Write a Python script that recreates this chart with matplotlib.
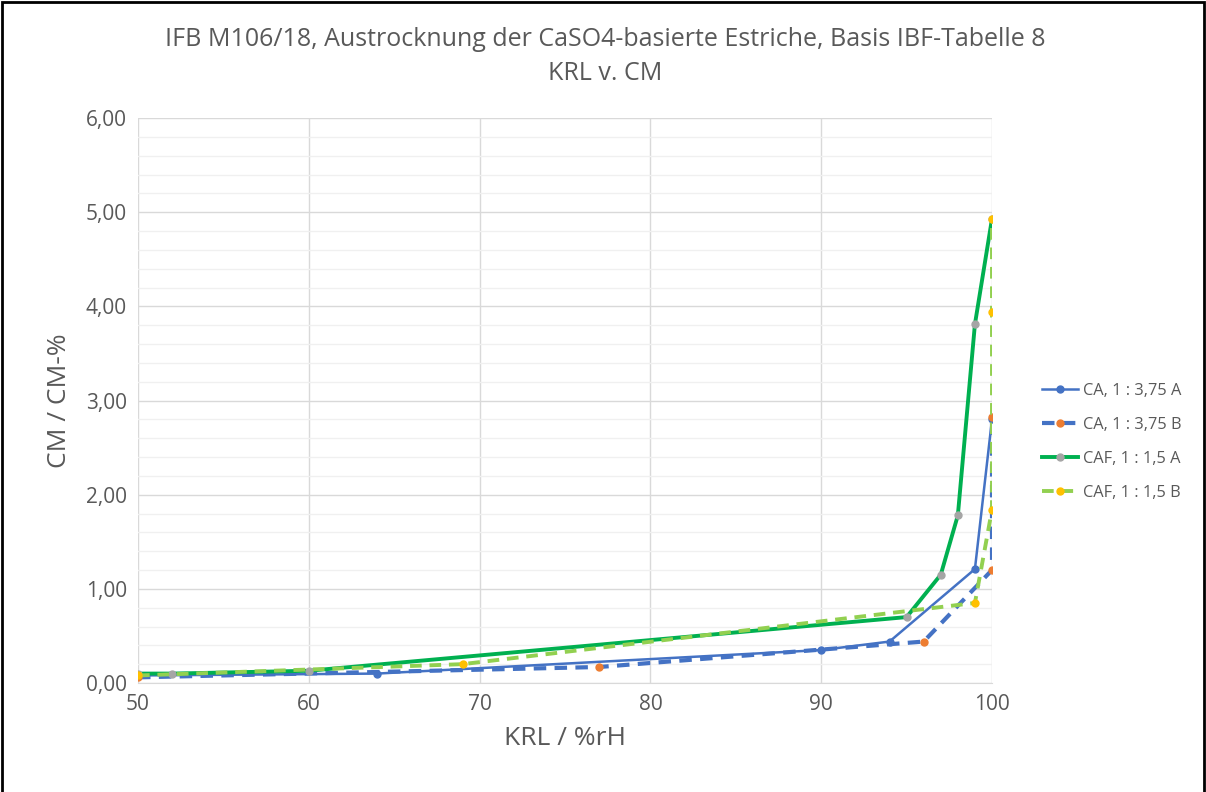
import matplotlib.pyplot as plt
from matplotlib.patches import Rectangle
from matplotlib.ticker import MultipleLocator

plt.rcParams['font.family'] = ['Open Sans', 'DejaVu Sans']

# data
x_ca_a = [50, 64, 90, 94, 99, 100]
y_ca_a = [0.08, 0.10, 0.35, 0.44, 1.21, 2.80]
x_ca_b = [50, 77, 96, 100, 100]
y_ca_b = [0.06, 0.17, 0.44, 1.20, 2.83]
x_caf_a = [50, 52, 60, 95, 97, 98, 99, 100]
y_caf_a = [0.10, 0.10, 0.13, 0.70, 1.15, 1.78, 3.81, 4.93]
x_caf_b = [50, 69, 99, 100, 100, 100]
y_caf_b = [0.08, 0.20, 0.85, 1.84, 3.94, 4.93]

fig = plt.figure(figsize=(12.06, 7.92), dpi=100)
ax = fig.add_axes([138/1206, 1-683/792, (992-138)/1206, (683-118)/792])

ax.plot(x_ca_a, y_ca_a, '-', color='#4472C4', lw=1.8, marker='o', ms=5,
        mfc='#4472C4', mec='#4472C4', label='CA, 1 : 3,75 A', zorder=3)
ax.plot(x_ca_b, y_ca_b, '--', color='#4472C4', lw=3, dashes=(3, 2), marker='o', ms=5,
        mfc='#ED7D31', mec='#ED7D31', label='CA, 1 : 3,75 B', zorder=3)
ax.plot(x_caf_a, y_caf_a, '-', color='#00B050', lw=2.8, marker='o', ms=5,
        mfc='#A5A5A5', mec='#A5A5A5', label='CAF, 1 : 1,5 A', zorder=4)
ax.plot(x_caf_b, y_caf_b, '--', color='#92D050', lw=2.8, dashes=(3, 2), marker='o', ms=5,
        mfc='#FFC000', mec='#FFC000', label='CAF, 1 : 1,5 B', zorder=5)

ax.set_xlim(50, 100)
ax.set_ylim(0, 6)
ax.xaxis.set_major_locator(MultipleLocator(10))
ax.yaxis.set_major_locator(MultipleLocator(1))
ax.yaxis.set_minor_locator(MultipleLocator(0.2))
ax.yaxis.set_major_formatter(plt.FuncFormatter(lambda v, p: f'{v:.2f}'.replace('.', ',')))
ax.grid(which='major', color='#D9D9D9', lw=1)
ax.grid(which='minor', axis='y', color='#F0F0F0', lw=1)
ax.set_axisbelow(True)
for s in ['top', 'right', 'left']:
    ax.spines[s].set_visible(False)
ax.spines['bottom'].set_color('#D9D9D9')
ax.tick_params(which='both', length=0, labelsize=15, colors='#595959', pad=8)

ax.set_xlabel('KRL / %rH', fontsize=19, color='#595959', labelpad=8)
ax.set_ylabel('CM / CM-%', fontsize=19, color='#595959', labelpad=10)

fig.text(605/1206, 1-40/792, 'IFB M106/18, Austrocknung der CaSO4-basierte Estriche, Basis IBF-Tabelle 8',
         ha='center', va='center', fontsize=18, color='#595959')
fig.text(605/1206, 1-73/792, 'KRL v. CM', ha='center', va='center', fontsize=18, color='#595959')

ax.legend(loc='center left', bbox_to_anchor=(1034/1206, 1-442/792), bbox_transform=fig.transFigure,
          frameon=False, fontsize=11.8, labelcolor='#595959', handlelength=2.2, handletextpad=0.3,
          labelspacing=1.1, borderpad=0)

fig.patches.append(Rectangle((0.002, -0.01), 0.996, 1.007, transform=fig.transFigure,
                             fill=False, edgecolor='black', lw=2))

fig.savefig('out.png', dpi=100)
